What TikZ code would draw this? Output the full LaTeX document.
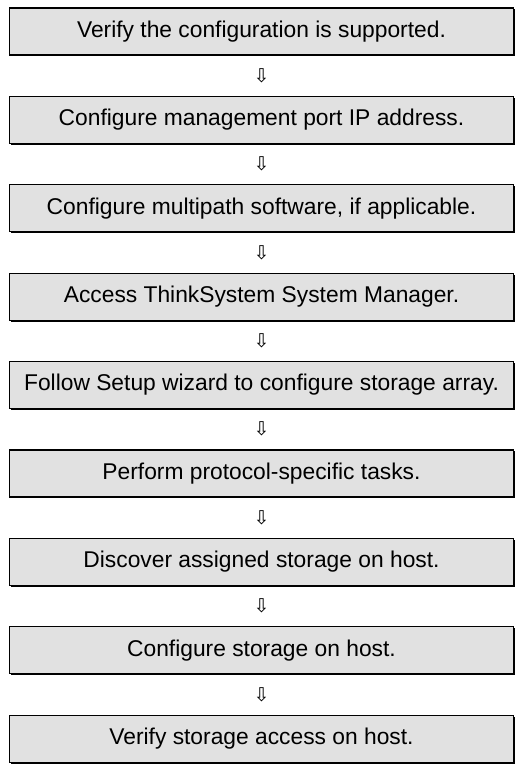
\documentclass[tikz,border=0pt]{standalone}
\usepackage{fontspec}
\setmainfont{Liberation Sans}
\newfontfamily\symfont{DejaVu Sans}
\usetikzlibrary{shadows}
\definecolor{boxgray}{HTML}{E1E1E1}
\begin{document}
\begin{tikzpicture}[x=1pt,y=1pt,
  stepbox/.style={draw=black, line width=1.1pt, fill=boxgray,
    minimum width=504pt, minimum height=47pt, inner sep=0pt,
    font=\fontsize{22.8}{26}\selectfont,
    drop shadow={shadow xshift=1.4pt, shadow yshift=-1.4pt, fill=black, opacity=1}},
  flowarrow/.style={font=\symfont\fontsize{19}{20}\selectfont, inner sep=0pt}]
\useasboundingbox (0,0) rectangle (523,765);
\foreach \i/\t in {1/{Verify the configuration is supported.},
  2/{Configure management port IP address.},
  3/{Configure multipath software, if applicable.},
  4/{Access ThinkSystem System Manager.},
  5/{Follow Setup wizard to configure storage array.},
  6/{Perform protocol-specific tasks.},
  7/{Discover assigned storage on host.},
  8/{Configure storage on host.},
  9/{Verify storage access on host.}}{
  \node[stepbox] (b\i) at (261.5, {765-31.5-88.4*(\i-1)}) {\t};
}
\foreach \i [evaluate=\i as \j using int(\i+1)] in {1,...,8}{
  \path (b\i.south) -- (b\j.north) node[midway, flowarrow] (a\i) {⇩};
}
\end{tikzpicture}
\end{document}
